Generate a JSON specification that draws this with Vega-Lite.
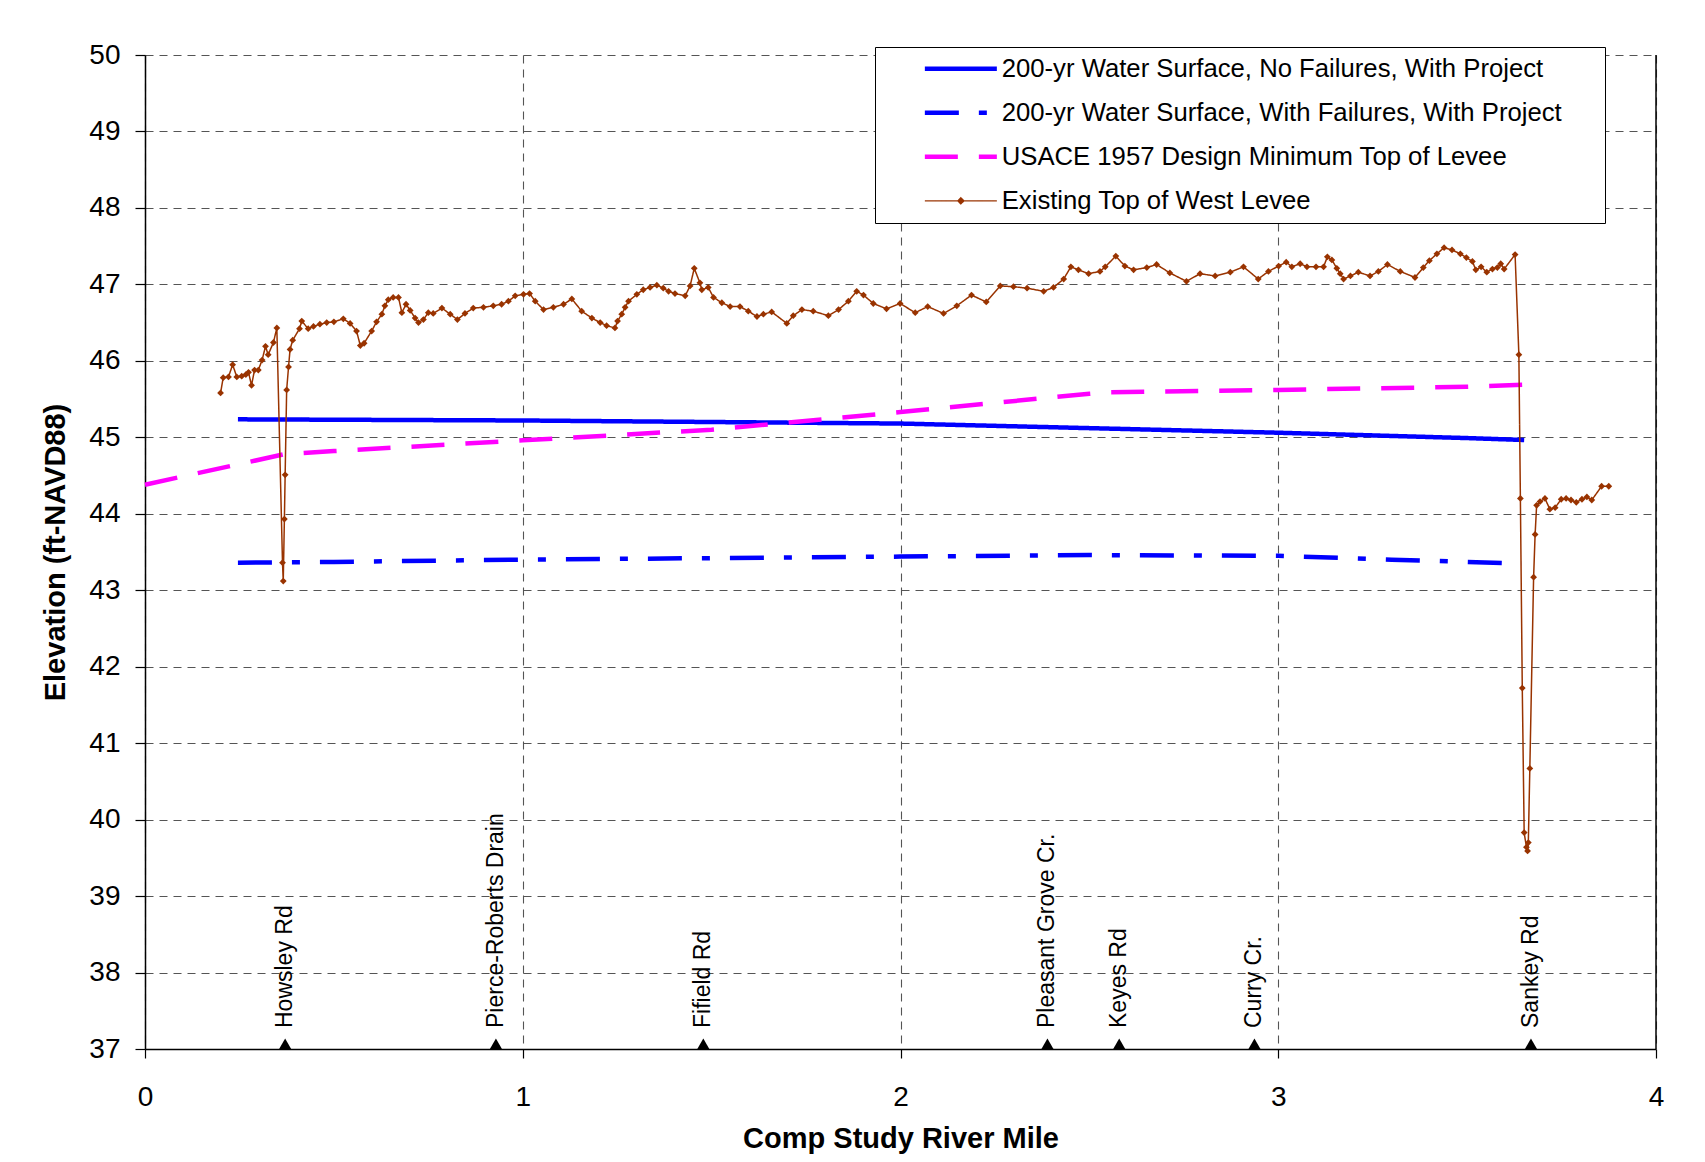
{
  "$schema": "https://vega.github.io/schema/vega-lite/v6.json",
  "width": 1511,
  "height": 994,
  "autosize": {"type": "none"},
  "padding": {"left": 145, "top": 55, "right": 49, "bottom": 113},
  "background": "white",
  "config": {
    "view": {"stroke": null},
    "font": "Liberation Sans",
    "axis": {
      "labelFont": "Liberation Sans",
      "titleFont": "Liberation Sans",
      "labelColor": "black",
      "titleColor": "black",
      "domainColor": "black",
      "domainWidth": 1.5,
      "tickColor": "black",
      "tickWidth": 1.2,
      "gridColor": "#555555",
      "gridDash": [8, 6],
      "gridWidth": 1.1,
      "gridOpacity": 1
    }
  },
  "datasets": {
    "lines": [
      {"series": "200-yr Water Surface, No Failures, With Project", "x": 0.246, "y": 45.235},
      {"series": "200-yr Water Surface, No Failures, With Project", "x": 0.5, "y": 45.23},
      {"series": "200-yr Water Surface, No Failures, With Project", "x": 1.0, "y": 45.22},
      {"series": "200-yr Water Surface, No Failures, With Project", "x": 1.5, "y": 45.2},
      {"series": "200-yr Water Surface, No Failures, With Project", "x": 2.0, "y": 45.18},
      {"series": "200-yr Water Surface, No Failures, With Project", "x": 2.5, "y": 45.12},
      {"series": "200-yr Water Surface, No Failures, With Project", "x": 3.0, "y": 45.06},
      {"series": "200-yr Water Surface, No Failures, With Project", "x": 3.5, "y": 44.99},
      {"series": "200-yr Water Surface, No Failures, With Project", "x": 3.651, "y": 44.965},
      {"series": "200-yr Water Surface, With Failures, With Project", "x": 0.246, "y": 43.36},
      {"series": "200-yr Water Surface, With Failures, With Project", "x": 0.5, "y": 43.37},
      {"series": "200-yr Water Surface, With Failures, With Project", "x": 1.0, "y": 43.4},
      {"series": "200-yr Water Surface, With Failures, With Project", "x": 1.5, "y": 43.42},
      {"series": "200-yr Water Surface, With Failures, With Project", "x": 2.0, "y": 43.44},
      {"series": "200-yr Water Surface, With Failures, With Project", "x": 2.5, "y": 43.46},
      {"series": "200-yr Water Surface, With Failures, With Project", "x": 3.0, "y": 43.45},
      {"series": "200-yr Water Surface, With Failures, With Project", "x": 3.3, "y": 43.4},
      {"series": "200-yr Water Surface, With Failures, With Project", "x": 3.645, "y": 43.35},
      {"series": "USACE 1957 Design Minimum Top of Levee", "x": 0.0, "y": 44.38},
      {"series": "USACE 1957 Design Minimum Top of Levee", "x": 0.37, "y": 44.78},
      {"series": "USACE 1957 Design Minimum Top of Levee", "x": 0.5, "y": 44.82},
      {"series": "USACE 1957 Design Minimum Top of Levee", "x": 1.0, "y": 44.96},
      {"series": "USACE 1957 Design Minimum Top of Levee", "x": 1.5, "y": 45.1},
      {"series": "USACE 1957 Design Minimum Top of Levee", "x": 2.0, "y": 45.33},
      {"series": "USACE 1957 Design Minimum Top of Levee", "x": 2.5, "y": 45.57},
      {"series": "USACE 1957 Design Minimum Top of Levee", "x": 2.55, "y": 45.59},
      {"series": "USACE 1957 Design Minimum Top of Levee", "x": 3.0, "y": 45.62},
      {"series": "USACE 1957 Design Minimum Top of Levee", "x": 3.5, "y": 45.66},
      {"series": "USACE 1957 Design Minimum Top of Levee", "x": 3.667, "y": 45.69},
      {"series": "Existing Top of West Levee", "x": 0.200, "y": 45.58},
      {"series": "Existing Top of West Levee", "x": 0.207, "y": 45.78},
      {"series": "Existing Top of West Levee", "x": 0.221, "y": 45.79},
      {"series": "Existing Top of West Levee", "x": 0.232, "y": 45.95},
      {"series": "Existing Top of West Levee", "x": 0.243, "y": 45.79},
      {"series": "Existing Top of West Levee", "x": 0.256, "y": 45.80},
      {"series": "Existing Top of West Levee", "x": 0.267, "y": 45.82},
      {"series": "Existing Top of West Levee", "x": 0.274, "y": 45.85},
      {"series": "Existing Top of West Levee", "x": 0.282, "y": 45.68},
      {"series": "Existing Top of West Levee", "x": 0.290, "y": 45.88},
      {"series": "Existing Top of West Levee", "x": 0.300, "y": 45.88},
      {"series": "Existing Top of West Levee", "x": 0.310, "y": 46.01},
      {"series": "Existing Top of West Levee", "x": 0.319, "y": 46.19},
      {"series": "Existing Top of West Levee", "x": 0.326, "y": 46.08},
      {"series": "Existing Top of West Levee", "x": 0.340, "y": 46.24},
      {"series": "Existing Top of West Levee", "x": 0.349, "y": 46.43},
      {"series": "Existing Top of West Levee", "x": 0.364, "y": 43.36},
      {"series": "Existing Top of West Levee", "x": 0.366, "y": 43.12},
      {"series": "Existing Top of West Levee", "x": 0.369, "y": 43.93},
      {"series": "Existing Top of West Levee", "x": 0.371, "y": 44.51},
      {"series": "Existing Top of West Levee", "x": 0.375, "y": 45.62},
      {"series": "Existing Top of West Levee", "x": 0.380, "y": 45.92},
      {"series": "Existing Top of West Levee", "x": 0.384, "y": 46.15},
      {"series": "Existing Top of West Levee", "x": 0.391, "y": 46.27},
      {"series": "Existing Top of West Levee", "x": 0.409, "y": 46.42},
      {"series": "Existing Top of West Levee", "x": 0.415, "y": 46.52},
      {"series": "Existing Top of West Levee", "x": 0.432, "y": 46.42},
      {"series": "Existing Top of West Levee", "x": 0.446, "y": 46.45},
      {"series": "Existing Top of West Levee", "x": 0.463, "y": 46.48},
      {"series": "Existing Top of West Levee", "x": 0.481, "y": 46.50},
      {"series": "Existing Top of West Levee", "x": 0.500, "y": 46.51},
      {"series": "Existing Top of West Levee", "x": 0.525, "y": 46.55},
      {"series": "Existing Top of West Levee", "x": 0.543, "y": 46.49},
      {"series": "Existing Top of West Levee", "x": 0.560, "y": 46.39},
      {"series": "Existing Top of West Levee", "x": 0.570, "y": 46.20},
      {"series": "Existing Top of West Levee", "x": 0.580, "y": 46.23},
      {"series": "Existing Top of West Levee", "x": 0.600, "y": 46.39},
      {"series": "Existing Top of West Levee", "x": 0.613, "y": 46.51},
      {"series": "Existing Top of West Levee", "x": 0.627, "y": 46.61},
      {"series": "Existing Top of West Levee", "x": 0.635, "y": 46.72},
      {"series": "Existing Top of West Levee", "x": 0.644, "y": 46.80},
      {"series": "Existing Top of West Levee", "x": 0.657, "y": 46.83},
      {"series": "Existing Top of West Levee", "x": 0.671, "y": 46.83},
      {"series": "Existing Top of West Levee", "x": 0.680, "y": 46.63},
      {"series": "Existing Top of West Levee", "x": 0.691, "y": 46.74},
      {"series": "Existing Top of West Levee", "x": 0.702, "y": 46.66},
      {"series": "Existing Top of West Levee", "x": 0.715, "y": 46.56},
      {"series": "Existing Top of West Levee", "x": 0.724, "y": 46.50},
      {"series": "Existing Top of West Levee", "x": 0.737, "y": 46.54},
      {"series": "Existing Top of West Levee", "x": 0.750, "y": 46.63},
      {"series": "Existing Top of West Levee", "x": 0.763, "y": 46.62},
      {"series": "Existing Top of West Levee", "x": 0.786, "y": 46.69},
      {"series": "Existing Top of West Levee", "x": 0.808, "y": 46.61},
      {"series": "Existing Top of West Levee", "x": 0.827, "y": 46.54},
      {"series": "Existing Top of West Levee", "x": 0.847, "y": 46.62},
      {"series": "Existing Top of West Levee", "x": 0.869, "y": 46.69},
      {"series": "Existing Top of West Levee", "x": 0.896, "y": 46.70},
      {"series": "Existing Top of West Levee", "x": 0.922, "y": 46.72},
      {"series": "Existing Top of West Levee", "x": 0.944, "y": 46.74},
      {"series": "Existing Top of West Levee", "x": 0.962, "y": 46.78},
      {"series": "Existing Top of West Levee", "x": 0.980, "y": 46.85},
      {"series": "Existing Top of West Levee", "x": 1.002, "y": 46.87},
      {"series": "Existing Top of West Levee", "x": 1.018, "y": 46.88},
      {"series": "Existing Top of West Levee", "x": 1.033, "y": 46.78},
      {"series": "Existing Top of West Levee", "x": 1.055, "y": 46.67},
      {"series": "Existing Top of West Levee", "x": 1.081, "y": 46.70},
      {"series": "Existing Top of West Levee", "x": 1.108, "y": 46.74},
      {"series": "Existing Top of West Levee", "x": 1.130, "y": 46.81},
      {"series": "Existing Top of West Levee", "x": 1.156, "y": 46.65},
      {"series": "Existing Top of West Levee", "x": 1.183, "y": 46.56},
      {"series": "Existing Top of West Levee", "x": 1.205, "y": 46.50},
      {"series": "Existing Top of West Levee", "x": 1.222, "y": 46.46},
      {"series": "Existing Top of West Levee", "x": 1.244, "y": 46.43},
      {"series": "Existing Top of West Levee", "x": 1.251, "y": 46.52},
      {"series": "Existing Top of West Levee", "x": 1.262, "y": 46.61},
      {"series": "Existing Top of West Levee", "x": 1.271, "y": 46.70},
      {"series": "Existing Top of West Levee", "x": 1.280, "y": 46.78},
      {"series": "Existing Top of West Levee", "x": 1.302, "y": 46.87},
      {"series": "Existing Top of West Levee", "x": 1.319, "y": 46.93},
      {"series": "Existing Top of West Levee", "x": 1.337, "y": 46.96},
      {"series": "Existing Top of West Levee", "x": 1.355, "y": 46.99},
      {"series": "Existing Top of West Levee", "x": 1.372, "y": 46.95},
      {"series": "Existing Top of West Levee", "x": 1.386, "y": 46.91},
      {"series": "Existing Top of West Levee", "x": 1.403, "y": 46.88},
      {"series": "Existing Top of West Levee", "x": 1.430, "y": 46.85},
      {"series": "Existing Top of West Levee", "x": 1.443, "y": 46.98},
      {"series": "Existing Top of West Levee", "x": 1.454, "y": 47.21},
      {"series": "Existing Top of West Levee", "x": 1.469, "y": 47.02},
      {"series": "Existing Top of West Levee", "x": 1.474, "y": 46.93},
      {"series": "Existing Top of West Levee", "x": 1.491, "y": 46.96},
      {"series": "Existing Top of West Levee", "x": 1.505, "y": 46.83},
      {"series": "Existing Top of West Levee", "x": 1.527, "y": 46.76},
      {"series": "Existing Top of West Levee", "x": 1.549, "y": 46.71},
      {"series": "Existing Top of West Levee", "x": 1.575, "y": 46.71},
      {"series": "Existing Top of West Levee", "x": 1.597, "y": 46.65},
      {"series": "Existing Top of West Levee", "x": 1.620, "y": 46.58},
      {"series": "Existing Top of West Levee", "x": 1.637, "y": 46.61},
      {"series": "Existing Top of West Levee", "x": 1.659, "y": 46.64},
      {"series": "Existing Top of West Levee", "x": 1.699, "y": 46.49},
      {"series": "Existing Top of West Levee", "x": 1.716, "y": 46.59},
      {"series": "Existing Top of West Levee", "x": 1.739, "y": 46.67},
      {"series": "Existing Top of West Levee", "x": 1.769, "y": 46.65},
      {"series": "Existing Top of West Levee", "x": 1.809, "y": 46.59},
      {"series": "Existing Top of West Levee", "x": 1.836, "y": 46.67},
      {"series": "Existing Top of West Levee", "x": 1.862, "y": 46.78},
      {"series": "Existing Top of West Levee", "x": 1.884, "y": 46.91},
      {"series": "Existing Top of West Levee", "x": 1.902, "y": 46.86},
      {"series": "Existing Top of West Levee", "x": 1.928, "y": 46.75},
      {"series": "Existing Top of West Levee", "x": 1.963, "y": 46.68},
      {"series": "Existing Top of West Levee", "x": 1.999, "y": 46.75},
      {"series": "Existing Top of West Levee", "x": 2.039, "y": 46.63},
      {"series": "Existing Top of West Levee", "x": 2.072, "y": 46.71},
      {"series": "Existing Top of West Levee", "x": 2.114, "y": 46.62},
      {"series": "Existing Top of West Levee", "x": 2.149, "y": 46.72},
      {"series": "Existing Top of West Levee", "x": 2.188, "y": 46.86},
      {"series": "Existing Top of West Levee", "x": 2.227, "y": 46.77},
      {"series": "Existing Top of West Levee", "x": 2.264, "y": 46.98},
      {"series": "Existing Top of West Levee", "x": 2.299, "y": 46.97},
      {"series": "Existing Top of West Levee", "x": 2.335, "y": 46.95},
      {"series": "Existing Top of West Levee", "x": 2.379, "y": 46.91},
      {"series": "Existing Top of West Levee", "x": 2.405, "y": 46.96},
      {"series": "Existing Top of West Levee", "x": 2.432, "y": 47.07},
      {"series": "Existing Top of West Levee", "x": 2.451, "y": 47.23},
      {"series": "Existing Top of West Levee", "x": 2.471, "y": 47.19},
      {"series": "Existing Top of West Levee", "x": 2.498, "y": 47.14},
      {"series": "Existing Top of West Levee", "x": 2.528, "y": 47.17},
      {"series": "Existing Top of West Levee", "x": 2.542, "y": 47.23},
      {"series": "Existing Top of West Levee", "x": 2.570, "y": 47.37},
      {"series": "Existing Top of West Levee", "x": 2.594, "y": 47.24},
      {"series": "Existing Top of West Levee", "x": 2.617, "y": 47.19},
      {"series": "Existing Top of West Levee", "x": 2.652, "y": 47.22},
      {"series": "Existing Top of West Levee", "x": 2.678, "y": 47.26},
      {"series": "Existing Top of West Levee", "x": 2.713, "y": 47.15},
      {"series": "Existing Top of West Levee", "x": 2.757, "y": 47.04},
      {"series": "Existing Top of West Levee", "x": 2.793, "y": 47.14},
      {"series": "Existing Top of West Levee", "x": 2.833, "y": 47.11},
      {"series": "Existing Top of West Levee", "x": 2.873, "y": 47.16},
      {"series": "Existing Top of West Levee", "x": 2.908, "y": 47.23},
      {"series": "Existing Top of West Levee", "x": 2.947, "y": 47.07},
      {"series": "Existing Top of West Levee", "x": 2.974, "y": 47.17},
      {"series": "Existing Top of West Levee", "x": 3.001, "y": 47.24},
      {"series": "Existing Top of West Levee", "x": 3.021, "y": 47.29},
      {"series": "Existing Top of West Levee", "x": 3.036, "y": 47.23},
      {"series": "Existing Top of West Levee", "x": 3.058, "y": 47.27},
      {"series": "Existing Top of West Levee", "x": 3.076, "y": 47.23},
      {"series": "Existing Top of West Levee", "x": 3.100, "y": 47.23},
      {"series": "Existing Top of West Levee", "x": 3.120, "y": 47.23},
      {"series": "Existing Top of West Levee", "x": 3.130, "y": 47.36},
      {"series": "Existing Top of West Levee", "x": 3.142, "y": 47.32},
      {"series": "Existing Top of West Levee", "x": 3.155, "y": 47.21},
      {"series": "Existing Top of West Levee", "x": 3.164, "y": 47.14},
      {"series": "Existing Top of West Levee", "x": 3.173, "y": 47.07},
      {"series": "Existing Top of West Levee", "x": 3.191, "y": 47.11},
      {"series": "Existing Top of West Levee", "x": 3.212, "y": 47.16},
      {"series": "Existing Top of West Levee", "x": 3.243, "y": 47.11},
      {"series": "Existing Top of West Levee", "x": 3.265, "y": 47.17},
      {"series": "Existing Top of West Levee", "x": 3.289, "y": 47.26},
      {"series": "Existing Top of West Levee", "x": 3.323, "y": 47.17},
      {"series": "Existing Top of West Levee", "x": 3.362, "y": 47.09},
      {"series": "Existing Top of West Levee", "x": 3.384, "y": 47.22},
      {"series": "Existing Top of West Levee", "x": 3.400, "y": 47.31},
      {"series": "Existing Top of West Levee", "x": 3.420, "y": 47.40},
      {"series": "Existing Top of West Levee", "x": 3.439, "y": 47.48},
      {"series": "Existing Top of West Levee", "x": 3.460, "y": 47.45},
      {"series": "Existing Top of West Levee", "x": 3.482, "y": 47.40},
      {"series": "Existing Top of West Levee", "x": 3.498, "y": 47.35},
      {"series": "Existing Top of West Levee", "x": 3.514, "y": 47.30},
      {"series": "Existing Top of West Levee", "x": 3.523, "y": 47.19},
      {"series": "Existing Top of West Levee", "x": 3.537, "y": 47.23},
      {"series": "Existing Top of West Levee", "x": 3.552, "y": 47.16},
      {"series": "Existing Top of West Levee", "x": 3.567, "y": 47.20},
      {"series": "Existing Top of West Levee", "x": 3.580, "y": 47.22},
      {"series": "Existing Top of West Levee", "x": 3.589, "y": 47.27},
      {"series": "Existing Top of West Levee", "x": 3.598, "y": 47.20},
      {"series": "Existing Top of West Levee", "x": 3.627, "y": 47.39},
      {"series": "Existing Top of West Levee", "x": 3.637, "y": 46.08},
      {"series": "Existing Top of West Levee", "x": 3.641, "y": 44.20},
      {"series": "Existing Top of West Levee", "x": 3.646, "y": 41.72},
      {"series": "Existing Top of West Levee", "x": 3.651, "y": 39.83},
      {"series": "Existing Top of West Levee", "x": 3.657, "y": 39.64},
      {"series": "Existing Top of West Levee", "x": 3.660, "y": 39.59},
      {"series": "Existing Top of West Levee", "x": 3.662, "y": 39.70},
      {"series": "Existing Top of West Levee", "x": 3.666, "y": 40.67},
      {"series": "Existing Top of West Levee", "x": 3.676, "y": 43.17},
      {"series": "Existing Top of West Levee", "x": 3.680, "y": 43.73},
      {"series": "Existing Top of West Levee", "x": 3.684, "y": 44.11},
      {"series": "Existing Top of West Levee", "x": 3.693, "y": 44.16},
      {"series": "Existing Top of West Levee", "x": 3.706, "y": 44.20},
      {"series": "Existing Top of West Levee", "x": 3.719, "y": 44.06},
      {"series": "Existing Top of West Levee", "x": 3.733, "y": 44.08},
      {"series": "Existing Top of West Levee", "x": 3.749, "y": 44.19},
      {"series": "Existing Top of West Levee", "x": 3.762, "y": 44.20},
      {"series": "Existing Top of West Levee", "x": 3.775, "y": 44.18},
      {"series": "Existing Top of West Levee", "x": 3.789, "y": 44.15},
      {"series": "Existing Top of West Levee", "x": 3.804, "y": 44.19},
      {"series": "Existing Top of West Levee", "x": 3.817, "y": 44.22},
      {"series": "Existing Top of West Levee", "x": 3.830, "y": 44.18},
      {"series": "Existing Top of West Levee", "x": 3.856, "y": 44.36},
      {"series": "Existing Top of West Levee", "x": 3.875, "y": 44.36}
    ],
    "places": [
      {"name": "Howsley Rd", "x": 0.371},
      {"name": "Pierce-Roberts Drain", "x": 0.929},
      {"name": "Fifield Rd", "x": 1.478},
      {"name": "Pleasant Grove Cr.", "x": 2.389},
      {"name": "Keyes Rd", "x": 2.579},
      {"name": "Curry Cr.", "x": 2.937},
      {"name": "Sankey Rd", "x": 3.669}
    ],
    "border": [{"x": 4}]
  },
  "layer": [
    {
      "data": {"name": "lines"},
      "mark": {"type": "line", "strokeCap": "butt", "strokeJoin": "round"},
      "encoding": {
        "x": {
          "field": "x", "type": "quantitative",
          "scale": {"domain": [0, 4], "nice": false, "zero": false},
          "axis": {
            "values": [0, 0.5, 1, 1.5, 2, 2.5, 3, 3.5, 4],
            "format": "d",
            "labelExpr": "datum.value % 1 === 0 ? datum.label : ''",
            "labelFlush": false,
            "labelOverlap": false,
            "tickOpacity": {"condition": {"test": "datum.value % 1 !== 0", "value": 0}, "value": 1},
            "grid": true,
            "tickSize": 9,
            "labelFontSize": 28,
            "labelPadding": 25,
            "title": "Comp Study River Mile",
            "titleFontSize": 29,
            "titleFontWeight": "bold",
            "titlePadding": 13
          }
        },
        "y": {
          "field": "y", "type": "quantitative",
          "scale": {"domain": [37, 50], "nice": false, "zero": false},
          "axis": {
            "values": [37, 38, 39, 40, 41, 42, 43, 44, 45, 46, 47, 48, 49, 50],
            "format": "d",
            "labelFlush": false,
            "grid": true,
            "tickSize": 10,
            "labelFontSize": 28,
            "labelPadding": 15,
            "title": "Elevation (ft-NAVD88)",
            "titleFontSize": 29,
            "titleFontWeight": "bold",
            "titlePadding": 18
          }
        },
        "color": {
          "field": "series", "type": "nominal",
          "scale": {
            "domain": ["200-yr Water Surface, No Failures, With Project", "200-yr Water Surface, With Failures, With Project", "USACE 1957 Design Minimum Top of Levee", "Existing Top of West Levee"],
            "range": ["#0000FF", "#0000FF", "#FF00FF", "#993300"]
          },
          "legend": {
            "orient": "none",
            "legendX": 730,
            "legendY": -8,
            "title": " ",
            "titleOrient": "right",
            "titlePadding": 34,
            "titleFontSize": 10,
            "fillColor": "white",
            "strokeColor": "black",
            "padding": 9,
            "rowPadding": 17,
            "labelFont": "Liberation Sans",
            "labelFontSize": 25.7,
            "labelColor": "black",
            "labelLimit": 1000,
            "labelOffset": 28,
            "symbolOffset": 64,
            "symbolSize": 400,
            "symbolType": "M-3.6,0H3.6",
            "symbolStrokeWidth": 4,
            "encode": {
              "symbols": {
                "update": {
                  "shape": {"signal": "datum.value === 'Existing Top of West Levee' ? 'M-3.6,0H3.6M-0.3,0L0,-0.3L0.3,0L0,0.3Z' : 'M-3.6,0H3.6'"},
                  "fill": {"signal": "datum.value === 'Existing Top of West Levee' ? '#993300' : 'transparent'"},
                  "strokeWidth": {"signal": "datum.value === 'Existing Top of West Levee' ? 1.4 : 4.5"},
                  "strokeDash": {"signal": "datum.value === '200-yr Water Surface, With Failures, With Project' ? [34, 20, 8, 20] : datum.value === 'USACE 1957 Design Minimum Top of Levee' ? [33, 21] : [1, 0]"},
                  "opacity": {"value": 1}
                }
              }
            }
          }
        },
        "strokeDash": {
          "field": "series", "type": "nominal",
          "scale": {
            "domain": ["200-yr Water Surface, No Failures, With Project", "200-yr Water Surface, With Failures, With Project", "USACE 1957 Design Minimum Top of Levee", "Existing Top of West Levee"],
            "range": [[1, 0], [34, 20, 8, 20], [33, 21], [1, 0]]
          },
          "legend": null
        },
        "strokeWidth": {
          "condition": {"test": "datum.series === 'Existing Top of West Levee'", "value": 1.5},
          "value": 4.5
        }
      }
    },
    {
      "data": {"name": "lines"},
      "transform": [{"filter": "datum.series === 'Existing Top of West Levee'"}],
      "mark": {"type": "point", "shape": "diamond", "filled": true, "size": 46, "color": "#993300", "opacity": 1},
      "encoding": {
        "x": {"field": "x", "type": "quantitative"},
        "y": {"field": "y", "type": "quantitative"}
      }
    },
    {
      "data": {"name": "border"},
      "mark": {"type": "rule", "color": "black", "strokeWidth": 1.5},
      "encoding": {"x": {"field": "x", "type": "quantitative"}}
    },
    {
      "data": {"name": "places"},
      "mark": {"type": "point", "shape": "triangle-up", "filled": true, "size": 160, "color": "black", "opacity": 1, "yOffset": -5},
      "encoding": {
        "x": {"field": "x", "type": "quantitative"},
        "y": {"datum": 37}
      }
    },
    {
      "data": {"name": "places"},
      "mark": {"type": "text", "angle": 270, "align": "left", "baseline": "middle", "dx": 21, "fontSize": 23, "font": "Liberation Sans", "color": "black"},
      "encoding": {
        "x": {"field": "x", "type": "quantitative"},
        "y": {"datum": 37},
        "text": {"field": "name"}
      }
    }
  ]
}
